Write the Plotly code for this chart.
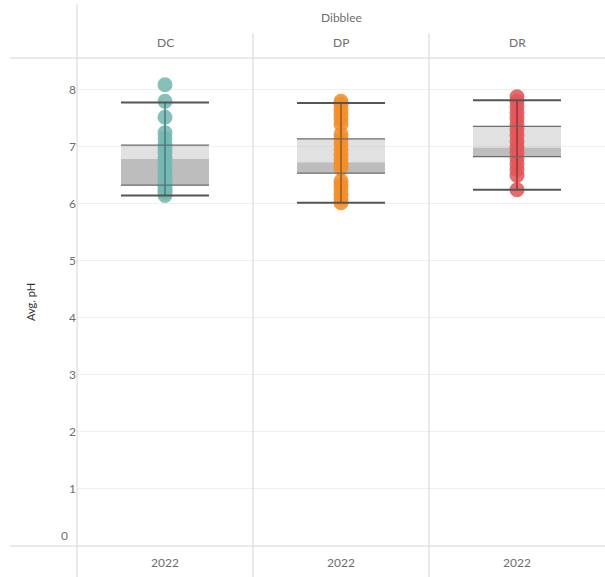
import plotly.graph_objects as go

# ---- data ----
sites = ["DC", "DP", "DR"]
group_label = "Dibblee"
year_labels = ["2022", "2022", "2022"]

ph_dc = [8.09, 7.80, 7.52, 7.25, 7.15, 7.05, 6.98, 6.90, 6.82, 6.75, 6.65,
         6.55, 6.47, 6.40, 6.35, 6.30, 6.25, 6.20, 6.15]
ph_dp = [7.80, 7.75, 7.66, 7.57, 7.48, 7.40, 7.22, 7.14, 7.05, 6.96, 6.87,
         6.78, 6.70, 6.62, 6.40, 6.33, 6.25, 6.17, 6.10, 6.02]
ph_dr = [7.88, 7.80, 7.70, 7.60, 7.50, 7.40, 7.30, 7.20, 7.10, 7.00, 6.90,
         6.80, 6.70, 6.60, 6.50, 6.25]
ph_values = [ph_dc, ph_dp, ph_dr]

# box-plot statistics
q1 = [6.33, 6.54, 6.83]
median = [6.79, 6.73, 6.99]
q3 = [7.03, 7.14, 7.36]
whisker_low = [6.15, 6.02, 6.25]
whisker_high = [7.78, 7.77, 7.82]

y_ticks = [0, 1, 2, 3, 4, 5, 6, 7, 8]

# ---- styles ----
colors = ["#76b7b2", "#f28e2b", "#e15759"]
dark_colors = ["#3f7f7a", "#9a5a1c", "#9a3235"]
txt = "#6e6e6e"
font_family = "Lato, 'Open Sans', sans-serif"

fig = go.Figure()

# points
for i, vals in enumerate(ph_values):
    fig.add_trace(go.Scatter(
        x=[i] * len(vals), y=vals, mode="markers",
        marker=dict(size=15, color=colors[i], opacity=0.88, line=dict(width=0)),
        hoverinfo="y", showlegend=False))

xs = list(range(len(sites)))
# lower box (median -> q1) darker, upper box (q3 -> median) lighter
fig.add_trace(go.Bar(
    x=xs, y=[m - a for m, a in zip(median, q1)], base=q1, width=0.5,
    marker=dict(color="rgba(135,135,135,0.55)", line=dict(width=0)),
    showlegend=False, hoverinfo="skip"))
fig.add_trace(go.Bar(
    x=xs, y=[b - m for b, m in zip(q3, median)], base=median, width=0.5,
    marker=dict(color="rgba(195,195,195,0.5)", line=dict(width=0)),
    showlegend=False, hoverinfo="skip"))

# vertical line through points between whiskers
for i in xs:
    fig.add_trace(go.Scatter(
        x=[i, i], y=[whisker_low[i], whisker_high[i]], mode="lines",
        line=dict(color=dark_colors[i], width=1.5),
        showlegend=False, hoverinfo="skip"))


def hlines(levels, half=0.25):
    xx, yy = [], []
    for i, v in enumerate(levels):
        xx += [i - half, i + half, None]
        yy += [v, v, None]
    return xx, yy


for lev, w, c in [(q1, 1.3, "#6a6a6a"), (q3, 1.3, "#6a6a6a"),
                  (whisker_low, 2, "#555555"), (whisker_high, 2, "#555555")]:
    xx, yy = hlines(lev)
    fig.add_trace(go.Scatter(x=xx, y=yy, mode="lines",
                             line=dict(color=c, width=w),
                             showlegend=False, hoverinfo="skip"))

# ---- layout ----
W, H = 605, 577
L, R, T, B = 77, 0, 58, 31
pw, ph = W - L - R, H - T - B


def px(xp):
    return (xp - L) / pw


def py(yp):
    return (H - B - yp) / ph


fig.update_layout(
    width=W, height=H,
    margin=dict(l=L, r=R, t=T, b=B),
    paper_bgcolor="white", plot_bgcolor="white",
    barmode="overlay",
    font=dict(family=font_family, size=12, color=txt),
    xaxis=dict(range=[-0.5, 2.5], tickvals=xs, ticktext=year_labels,
               showgrid=False, zeroline=False, showline=False,
               ticks="", ticklabelstandoff=8,
               tickfont=dict(size=12, color=txt), fixedrange=True),
    yaxis=dict(range=[0, 8.56], tickvals=y_ticks[1:],
               ticktext=[str(v) for v in y_ticks[1:]],
               showgrid=True, gridcolor="#efefef", gridwidth=1,
               zeroline=False, showline=False, ticks="",
               tickfont=dict(size=12, color=txt),
               title=dict(text="Avg. pH", font=dict(size=11, color="#333333"),
                          standoff=31)),
)

# "0" tick label nudged up inside the pane like the reference
fig.add_annotation(x=0, xref="paper", xanchor="right", xshift=-7,
                   y=y_ticks[0], yref="y", yshift=11, text=str(y_ticks[0]),
                   showarrow=False, font=dict(size=12, color=txt))

# headers
fig.add_annotation(x=0.5, xref="paper", y=py(18), yref="paper",
                   yanchor="middle", text=group_label, showarrow=False,
                   font=dict(size=12, color=txt))
for i, s in enumerate(sites):
    fig.add_annotation(x=i, xref="x", y=py(43), yref="paper", yanchor="middle",
                       text=s, showarrow=False, font=dict(size=12, color=txt))

line_c = "#d4d4d4"
shapes = [
    dict(type="line", xref="paper", yref="paper", x0=px(77), x1=px(77),
         y0=py(4), y1=py(577), line=dict(color=line_c, width=1)),
    dict(type="line", xref="paper", yref="paper", x0=px(10), x1=1,
         y0=py(58), y1=py(58), line=dict(color=line_c, width=1)),
    dict(type="line", xref="paper", yref="paper", x0=px(10), x1=1,
         y0=py(546), y1=py(546), line=dict(color=line_c, width=1)),
]
for b in [0.5, 1.5]:
    shapes.append(dict(type="line", xref="x", yref="paper", x0=b, x1=b,
                       y0=py(33), y1=py(577), line=dict(color=line_c, width=1)))
fig.update_layout(shapes=shapes)

fig.write_html("out.html",
               config={"displayModeBar": False},
               post_script="document.body.style.margin='0';"
                           "document.body.style.overflow='hidden';")
